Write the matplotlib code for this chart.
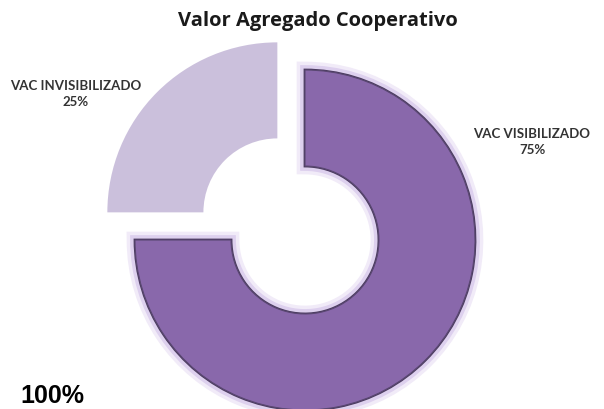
import matplotlib.pyplot as plt
import matplotlib.patheffects as pe

# data
labels = ["VAC VISIBILIZADO", "VAC INVISIBILIZADO"]
values = [75, 25]
colors = ["#8968ab", "#cbc0dc"]

fig = plt.figure(figsize=(6.04, 4.10), dpi=100)
ax = fig.add_axes([0, 0, 1, 1])

wedges, _ = ax.pie(values, colors=colors, startangle=90, counterclock=False,
                   explode=[0, 0.23], radius=1,
                   wedgeprops=dict(width=0.565, linewidth=0))

# 1 data unit = 170 px (pie() resets the limits, so set them afterwards)
ax.set_aspect("equal")
ax.set_xlim(-305 / 170, (604 - 305) / 170)
ax.set_ylim(-169 / 170, (410 - 169) / 170)
ax.axis("off")

# sombra / brillo en la porción oscura
dark = wedges[0]
dark.set_edgecolor("#5a4872")
dark.set_linewidth(0.8)
dark.set_path_effects([
    pe.Stroke(linewidth=12, foreground="#f1ebf8"),
    pe.Stroke(linewidth=7, foreground="#ddd0ee"),
    pe.Stroke(linewidth=2, foreground="#4a3a5e"),
    pe.Normal(),
])

lab_font = dict(family=["Lato", "DejaVu Sans"], fontsize=9.5, fontweight="bold",
                color="#333333", ha="center", va="center", linespacing=1.45)
fig.text(532 / 604, 1 - 142 / 410, f"{labels[0]}\n{values[0]}%", **lab_font)
fig.text(76 / 604, 1 - 94 / 410, f"{labels[1]}\n{values[1]}%", **lab_font)

fig.text(318 / 604, 1 - 21 / 410, "Valor Agregado Cooperativo",
         family=["Open Sans", "DejaVu Sans"], fontsize=14.5, fontweight="bold",
         color="#1a1a1a", ha="center", va="center")

fig.text(20 / 604, 2 / 410, f"{sum(values)}%", family=["Liberation Sans"],
         fontsize=18, fontweight="bold", color="black", ha="left", va="bottom")

fig.savefig("out.png", dpi=100)
